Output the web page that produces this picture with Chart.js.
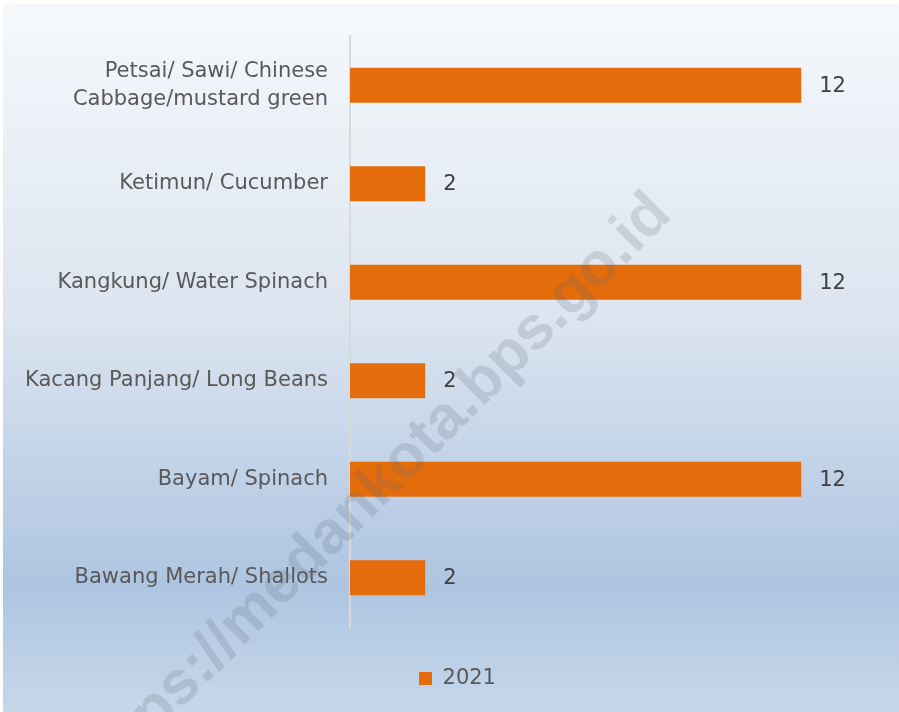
<!DOCTYPE html>
<html>
<head>
<meta charset="utf-8">
<script src="https://cdn.jsdelivr.net/npm/chart.js@4/dist/chart.umd.min.js"></script>
<style>
  html, body { margin: 0; padding: 0; background: #ffffff; overflow: hidden; }
  #wrap { width: 899px; height: 712px; }
  canvas { display: block; }
</style>
</head>
<body>
<div id="wrap"><canvas id="c" width="899" height="712"></canvas></div>
<script>
// ---- data ----
const categories = [
  ['Petsai/ Sawi/ Chinese', 'Cabbage/mustard green'],
  'Ketimun/ Cucumber',
  'Kangkung/ Water Spinach',
  'Kacang Panjang/ Long Beans',
  'Bayam/ Spinach',
  'Bawang Merah/ Shallots'
];
const seriesName = '2021';
const values2021 = [12, 2, 12, 2, 12, 2];
const watermarkText = 'https://medankota.bps.go.id';

// ---- plugins ----
const bgPlugin = {
  id: 'bg',
  beforeDraw(chart) {
    const ctx = chart.ctx;
    ctx.save();
    ctx.fillStyle = '#ffffff';
    ctx.fillRect(0, 0, chart.width, chart.height);
    const g = ctx.createLinearGradient(0, 4, 0, chart.height);
    g.addColorStop(0, '#f6f9fc');
    g.addColorStop(0.45, '#dbe4f0');
    g.addColorStop(0.82, '#aec5e1');
    g.addColorStop(1, '#c6d7ea');
    ctx.fillStyle = g;
    ctx.fillRect(3, 4, chart.width - 3, chart.height - 4);
    ctx.restore();
  }
};

const valueLabels = {
  id: 'valueLabels',
  afterDatasetsDraw(chart) {
    const ctx = chart.ctx;
    ctx.save();
    ctx.font = '21px "DejaVu Sans"';
    ctx.fillStyle = '#404040';
    ctx.textAlign = 'left';
    ctx.textBaseline = 'middle';
    const meta = chart.getDatasetMeta(0);
    meta.data.forEach((bar, i) => {
      ctx.fillText(String(chart.data.datasets[0].data[i]), bar.x + 18, bar.y + 1);
    });
    ctx.restore();
  }
};

const watermark = {
  id: 'watermark',
  afterDraw(chart) {
    const ctx = chart.ctx;
    ctx.save();
    ctx.translate(374, 492);
    ctx.rotate(-45 * Math.PI / 180);
    ctx.font = 'bold 61px "Liberation Sans"';
    ctx.fillStyle = 'rgba(95,105,120,0.2)';
    ctx.textAlign = 'center';
    ctx.textBaseline = 'middle';
    ctx.fillText(watermarkText, 0, 0);
    ctx.restore();
  }
};

new Chart(document.getElementById('c'), {
  type: 'bar',
  data: {
    labels: categories,
    datasets: [{
      label: seriesName,
      data: values2021,
      backgroundColor: '#e46c0a',
      borderWidth: 0,
      barPercentage: 1,
      categoryPercentage: 0.355
    }]
  },
  options: {
    indexAxis: 'y',
    responsive: false,
    animation: false,
    devicePixelRatio: 1,
    layout: { padding: { top: 32, bottom: 13, left: 16, right: 0 } },
    scales: {
      x: {
        min: 0, max: 14.6,
        ticks: { display: false },
        grid: { display: false, drawTicks: false },
        border: { display: false },
        afterFit(s) { s.height = 30; }
      },
      y: {
        ticks: {
          color: '#595959',
          font: { family: 'DejaVu Sans', size: 21, lineHeight: 1.33 },
          padding: 22
        },
        grid: { display: false, drawTicks: false },
        border: { display: true, color: '#d9d9d9', width: 2 },
        afterFit(s) { s.width = 334; }
      }
    },
    plugins: {
      legend: {
        position: 'bottom',
        labels: {
          boxWidth: 13, boxHeight: 13, padding: 11,
          color: '#595959',
          font: { family: 'DejaVu Sans', size: 21 }
        }
      },
      tooltip: { enabled: false }
    }
  },
  plugins: [bgPlugin, valueLabels, watermark]
});
</script>
</body>
</html>
